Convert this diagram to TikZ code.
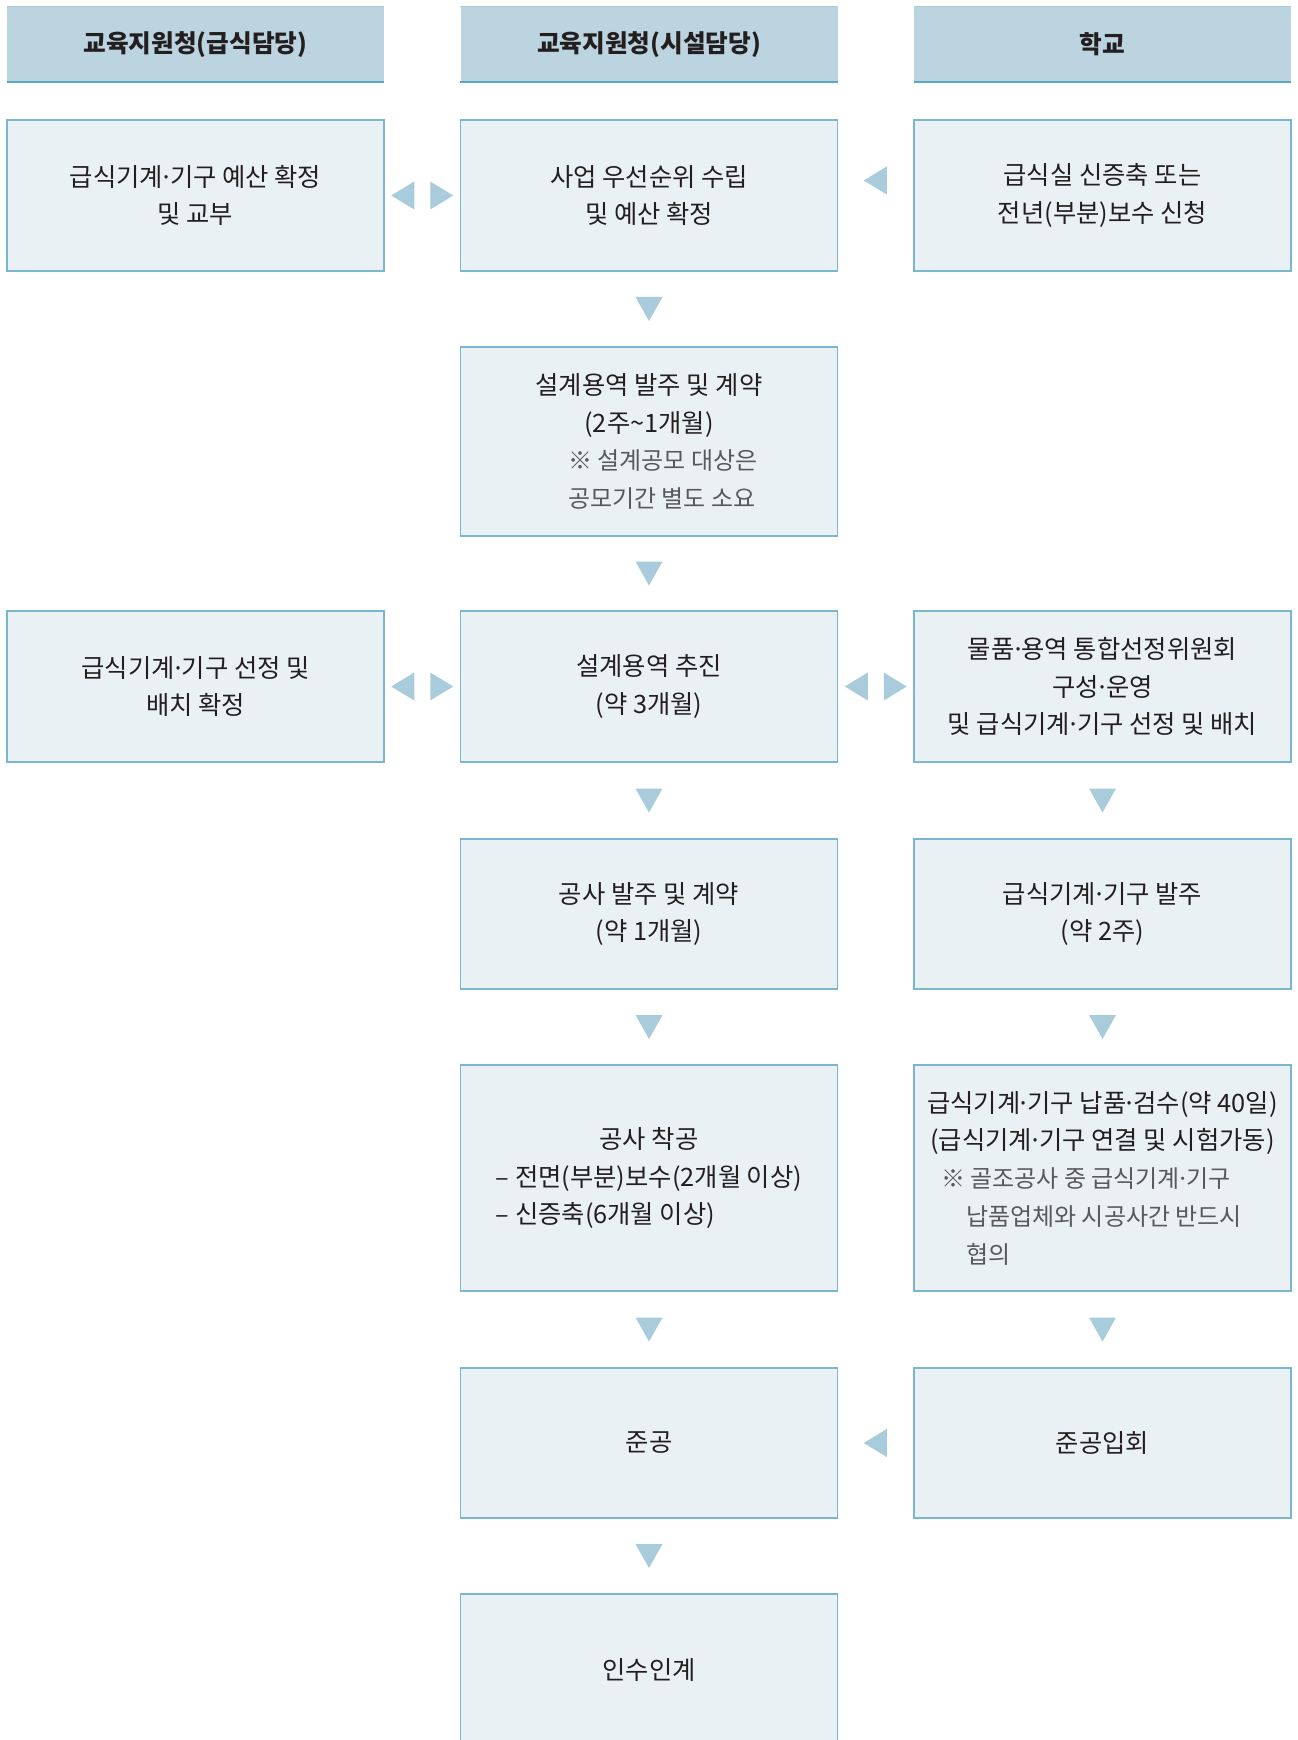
\documentclass[tikz,border=0pt]{standalone}
\usepackage{fontspec}
\usepackage{calc}
\setmainfont{Noto Sans CJK KR}
\usetikzlibrary{calc}

\definecolor{boxfill}{HTML}{EAF1F5}
\definecolor{boxline}{HTML}{7AB7CD}
\definecolor{headfill}{HTML}{BCD4E0}
\definecolor{headline}{HTML}{5CA8C3}
\definecolor{headtop}{HTML}{A9CCDA}
\definecolor{trifill}{HTML}{A8CCDB}
\definecolor{txt}{HTML}{231F20}
\definecolor{notetxt}{HTML}{58595B}

\newcommand\mdot{\kern-0.14em·\kern-0.14em}
\newcommand\notefont{\fontsize{18}{28.3}\selectfont\color{notetxt}}
\newcommand\downtri[1]{\fill[tri] (#1) ++(-13.5,-12) -- ++(27,0) -- ++(-13.5,24) -- cycle;}
\newcommand\lefttri[1]{\fill[tri] (#1) ++(-12,0) -- ++(23,-14) -- ++(0,28) -- cycle;}
\newcommand\pairtri[1]{\fill[tri] (#1) ++(-31,0) -- ++(23,-14) -- ++(0,28) -- cycle;
  \fill[tri] (#1) ++(31,0) -- ++(-23,-14) -- ++(0,28) -- cycle;}

\begin{document}
\begin{tikzpicture}[x=0.75pt,y=-0.75pt,
  box/.style={draw=boxline, line width=1.1pt, fill=boxfill, minimum width=282.75pt,
    inner sep=0pt, align=center, text=txt, font=\fontsize{19}{28.3}\selectfont},
  head/.style={fill=headfill, minimum width=282.75pt, minimum height=56.25pt,
    inner sep=0pt, text=txt, font=\fontsize{18.5}{22}\selectfont\bfseries},
  tri/.style={fill=trifill}]
\useasboundingbox (0,0) rectangle (1297,1740);
\fill[white] (0,0) rectangle (1297,1740);

% headers
\node[head] (h1) at (195.5,44.5) {교육지원청(급식담당)};
\node[head] (h2) at (649,44.5) {교육지원청(시설담당)};
\node[head] (h3) at (1102.5,44.5) {학교};
\foreach \h in {h1,h2,h3}{
  \draw[headtop, line width=0.8pt] (\h.north west) -- (\h.north east);
  \draw[headline, line width=1.2pt] (\h.south west) -- (\h.south east);
}

% row 1
\node[box, minimum height=113.25pt] (a1) at (195.5,195.5) {급식기계\mdot 기구 예산 확정\\및 교부};
\node[box, minimum height=113.25pt] (b1) at (649,195.5) {사업 우선순위 수립\\및 예산 확정};
\node[box, minimum height=113.25pt] (c1) at (1102.5,195.5) {급식실 신증축 또는\\전년(부분)보수 신청};

% row 2
\node[box, minimum height=141.75pt] (b2) at (649,441.5) {설계용역 발주 및 계약\\(2주\textasciitilde1개월)\\
  \makebox[121.5pt][l]{\notefont ※ 설계공모 대상은}\\
  \makebox[121.5pt][l]{\notefont 공모기간 별도 소요}};

% row 3
\node[box, minimum height=113.25pt] (a3) at (195.5,686.5) {급식기계\mdot 기구 선정 및\\배치 확정};
\node[box, minimum height=113.25pt] (b3) at (649,686.5) {설계용역 추진\\(약 3개월)};
\node[box, minimum height=113.25pt] (c3) at (1102.5,686.5) {물품\mdot 용역 통합선정위원회\\구성\mdot 운영\\및 급식기계\mdot 기구 선정 및 배치};

% row 4
\node[box, minimum height=112.5pt] (b4) at (649,914) {공사 발주 및 계약\\(약 1개월)};
\node[box, minimum height=112.5pt] (c4) at (1102.5,914) {급식기계\mdot 기구 발주\\(약 2주)};

% row 5
\node[box, minimum height=169.5pt] (b5) at (649,1178) {공사 착공\\
  – 전면(부분)보수(2개월 이상)\\
  \makebox[\widthof{– 전면(부분)보수(2개월 이상)}][l]{– 신증축(6개월 이상)}};
\node[box, minimum height=169.5pt] (c5) at (1102.5,1178) {급식기계\mdot 기구 납품\mdot 검수(약 40일)\\
  (급식기계\mdot 기구 연결 및 시험가동)\\
  \makebox[242pt][l]{\notefont ※ 골조공사 중 급식기계\mdot 기구}\\
  \makebox[242pt][l]{\notefont\hspace*{18.75pt}납품업체와 시공사간 반드시}\\
  \makebox[242pt][l]{\notefont\hspace*{18.75pt}협의}};

% row 6
\node[box, minimum height=112.5pt] (b6) at (649,1443) {준공};
\node[box, minimum height=112.5pt] (c6) at (1102.5,1443) {준공입회};

% row 7
\node[box, minimum height=113.25pt] (b7) at (649,1669.5) {인수인계};

% connectors (triangles)
\pairtri{$(a1.east)!0.5!(b1.west)$}
\lefttri{$(b1.east)!0.5!(c1.west)+(0,-15)$}
\downtri{$(b1.south)!0.5!(b2.north)$}
\downtri{$(b2.south)!0.5!(b3.north)$}
\pairtri{$(a3.east)!0.5!(b3.west)$}
\pairtri{$(b3.east)!0.5!(c3.west)$}
\downtri{$(b3.south)!0.5!(b4.north)$}
\downtri{$(c3.south)!0.5!(c4.north)$}
\downtri{$(b4.south)!0.5!(b5.north)$}
\downtri{$(c4.south)!0.5!(c5.north)$}
\downtri{$(b5.south)!0.5!(b6.north)$}
\downtri{$(c5.south)!0.5!(c6.north)$}
\lefttri{$(b6.east)!0.5!(c6.west)$}
\downtri{$(b6.south)!0.5!(b7.north)$}
\end{tikzpicture}
\end{document}
